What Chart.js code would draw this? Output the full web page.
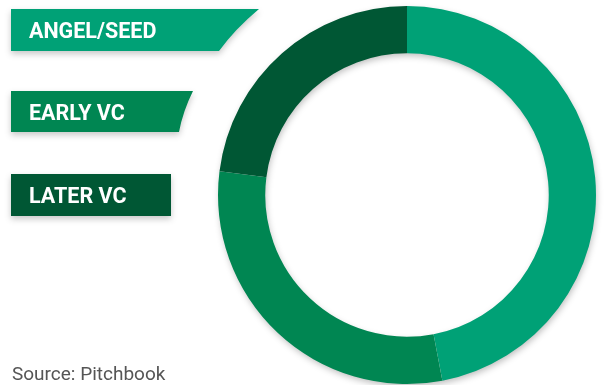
<!DOCTYPE html>
<html lang="en">
<head>
    <meta charset="UTF-8">
    <title>Funding by stage</title>
    <script src="https://cdn.jsdelivr.net/npm/chart.js@4.4.1/dist/chart.umd.min.js"></script>
    <style>
        * {
            box-sizing: border-box;
            margin: 0;
            padding: 0;
        }

        body {
            width: 605px;
            height: 385px;
            background: white;
            overflow: hidden;
            position: relative;
            font-family: Roboto, 'Noto Sans', sans-serif;
        }

        .chart-container {
            position: absolute;
            left: 0;
            top: 0;
            width: 605px;
            height: 385px;
        }

        .stage {
            position: absolute;
            left: 11px;
            filter: drop-shadow(0 3px 3px rgba(0, 0, 0, 0.22));
        }

        .stage-label {
            height: 42px;
            line-height: 43px;
            padding-left: 18px;
            color: white;
            font-weight: bold;
            font-size: 21.5px;
        }

        .source {
            position: absolute;
            left: 12px;
            top: 362px;
            font-size: 19px;
            color: #555;
        }
    </style>
</head>
<body>
    <div class="chart-container">
        <canvas id="stage-chart"></canvas>
    </div>
    <div id="stages"></div>
    <div class="source">Source: Pitchbook</div>

    <script>
        // Share of deals by stage (%)
        const stageNames = ['ANGEL/SEED', 'EARLY VC', 'LATER VC'];
        const stageShares = [47, 30, 23];
        const stageColors = ['#00a176', '#008652', '#005734'];

        // Banner outlines: width and slanted right edge
        const bannerTops = [9, 91, 174];
        const bannerShapes = [
            'path("M0 0 L248 0 Q224 20 208 42 L0 42 Z")',
            'path("M0 0 L182 0 Q172 20 168 41 L0 41 Z")',
            'path("M0 0 L160 0 L160 42 L0 42 Z")'
        ];
        const bannerWidths = [248, 182, 160];

        const stagesEl = document.getElementById('stages');
        stageNames.forEach((name, i) => {
            const wrap = document.createElement('div');
            wrap.className = 'stage';
            wrap.style.top = bannerTops[i] + 'px';
            const label = document.createElement('div');
            label.className = 'stage-label';
            label.textContent = name;
            label.style.width = bannerWidths[i] + 'px';
            label.style.background = stageColors[i];
            label.style.clipPath = bannerShapes[i];
            wrap.appendChild(label);
            stagesEl.appendChild(wrap);
        });

        // Soft shadow ring under the doughnut
        const ringShadow = {
            id: 'ringShadow',
            beforeDatasetsDraw(chart) {
                const arc = chart.getDatasetMeta(0).data[0];
                if (!arc) return;
                const { x, y, outerRadius, innerRadius } = arc.getProps(['x', 'y', 'outerRadius', 'innerRadius'], true);
                const ctx = chart.ctx;
                ctx.save();
                ctx.shadowColor = 'rgba(0, 0, 0, 0.28)';
                ctx.shadowBlur = 7;
                ctx.shadowOffsetY = 3;
                ctx.shadowOffsetX = 1;
                ctx.fillStyle = '#ffffff';
                ctx.beginPath();
                ctx.arc(x, y, outerRadius - 1, 0, Math.PI * 2);
                ctx.arc(x, y, innerRadius + 1, 0, Math.PI * 2, true);
                ctx.fill();
                ctx.restore();
            }
        };

        new Chart(document.getElementById('stage-chart'), {
            type: 'doughnut',
            data: {
                labels: stageNames,
                datasets: [{
                    data: stageShares,
                    backgroundColor: stageColors,
                    borderWidth: 0
                }]
            },
            options: {
                responsive: true,
                maintainAspectRatio: false,
                animation: false,
                cutout: '75%',
                layout: {
                    padding: { left: 218, right: 9, top: 6, bottom: 1 }
                },
                plugins: {
                    legend: { display: false },
                    tooltip: { enabled: false }
                }
            },
            plugins: [ringShadow]
        });
    </script>
</body>
</html>
